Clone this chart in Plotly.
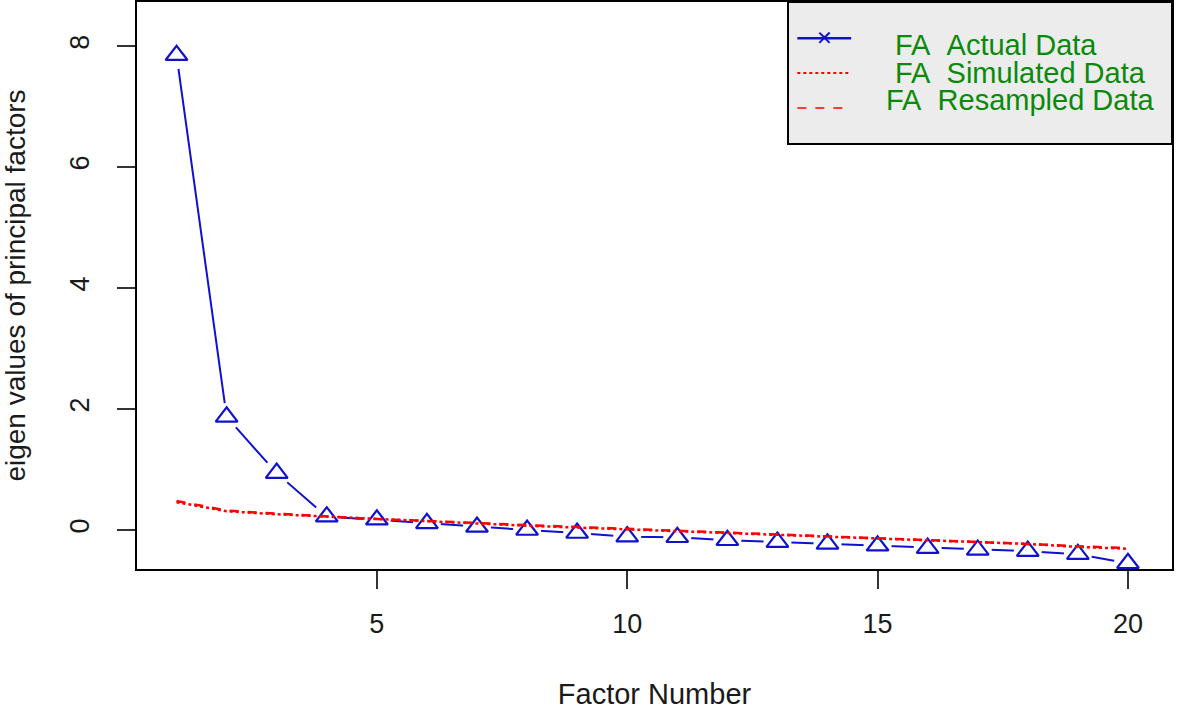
import plotly.graph_objects as go

factor_number = list(range(1, 21))
fa_actual = [7.85, 1.87, 0.94, 0.22, 0.17, 0.11, 0.05, 0.00, -0.05, -0.11,
             -0.12, -0.17, -0.20, -0.23, -0.26, -0.30, -0.33, -0.35, -0.40, -0.55]
fa_simulated = [0.46, 0.31, 0.26, 0.22, 0.18, 0.14, 0.11, 0.07, 0.04, 0.01,
                -0.02, -0.04, -0.07, -0.11, -0.14, -0.17, -0.20, -0.23, -0.28, -0.31]
fa_resampled = [0.48, 0.32, 0.27, 0.22, 0.18, 0.15, 0.11, 0.08, 0.05, 0.02,
                -0.01, -0.04, -0.07, -0.10, -0.13, -0.16, -0.19, -0.23, -0.27, -0.30]

legend_labels = ['FA\u00a0\u00a0Actual Data', 'FA\u00a0\u00a0Simulated Data', 'FA\u00a0\u00a0Resampled Data']

font_name = 'Liberation Sans, Arial, sans-serif'
blue = '#1010d0'
red = '#ff0000'
green = '#0a8a0a'

fig = go.Figure()

# Linie der echten Daten (type="b": Lücken um die Punkte)
fig.add_trace(go.Scatter(x=factor_number, y=fa_actual, mode='lines',
                         line=dict(color=blue, width=2), showlegend=False))
fig.add_trace(go.Scatter(x=factor_number, y=fa_actual, mode='markers',
                         marker=dict(symbol='circle', size=28, color='white'),
                         showlegend=False))
fig.add_trace(go.Scatter(x=factor_number, y=fa_actual, mode='markers',
                         marker=dict(symbol='triangle-up-open', size=19, color=blue,
                                     line=dict(width=2.2, color=blue)),
                         showlegend=False))

# Simulierte und resampelte Daten
fig.add_trace(go.Scatter(x=factor_number, y=fa_simulated, mode='lines',
                         line=dict(color=red, width=2.5, dash='dot'), showlegend=False))
fig.add_trace(go.Scatter(x=factor_number, y=fa_resampled, mode='lines',
                         line=dict(color=red, width=2.5, dash='dash'), showlegend=False))

# Legende von Hand (wie in R)
shapes = [
    dict(type='rect', xref='paper', yref='paper', x0=0.629, x1=1.0, y0=0.7496, y1=1.0,
         fillcolor='#ececec', line=dict(color='black', width=2), layer='above'),
    dict(type='line', xref='paper', yref='paper', x0=0.638, x1=0.690, y0=0.936, y1=0.936,
         line=dict(color=blue, width=2.5), layer='above'),
    dict(type='line', xref='paper', yref='paper', x0=0.638, x1=0.690, y0=0.875, y1=0.875,
         line=dict(color=red, width=2, dash='dot'), layer='above'),
    dict(type='line', xref='paper', yref='paper', x0=0.638, x1=0.690, y0=0.813, y1=0.813,
         line=dict(color=red, width=1.5, dash='dash'), layer='above'),
]
annotations = [
    dict(xref='paper', yref='paper', x=0.664, y=0.936, text='✕', showarrow=False,
         font=dict(family=font_name, size=20, color=blue), xanchor='center', yanchor='middle'),
]
for label, xl, yl in zip(legend_labels, [0.730, 0.730, 0.722], [0.925, 0.874, 0.828]):
    annotations.append(dict(xref='paper', yref='paper', x=xl, y=yl, text=label,
                            showarrow=False, xanchor='left', yanchor='middle',
                            font=dict(family=font_name, size=29, color=green)))

fig.update_layout(
    width=1181, height=713,
    margin=dict(l=137, r=9, t=2, b=144),
    plot_bgcolor='white', paper_bgcolor='white',
    font=dict(family=font_name, size=27, color='#1a1a1a'),
    shapes=shapes, annotations=annotations,
    xaxis=dict(range=[0.21, 20.88], tickvals=[5, 10, 15, 20], showgrid=False, zeroline=False,
               showline=True, mirror=True, linecolor='black', linewidth=2,
               ticks='outside', ticklen=18, tickwidth=1.5, tickcolor='#333333',
               ticklabelstandoff=12, tickfont=dict(size=27), automargin=False,
               title=dict(text='Factor Number', standoff=45, font=dict(size=29))),
    yaxis=dict(range=[-0.645, 8.73], tickvals=[0, 2, 4, 6, 8], showgrid=False, zeroline=False,
               showline=True, mirror=True, linecolor='black', linewidth=2,
               ticks='outside', ticklen=18, tickwidth=1.5, tickcolor='#333333',
               tickangle=-90, ticklabelstandoff=17, tickfont=dict(size=27), automargin=False,
               title=dict(text='eigen values of principal factors', standoff=36,
                          font=dict(size=28))),
)

# Seitenrand des Browsers entfernen
fig.write_html('out.html', config={'displayModeBar': False},
               post_script="document.body.style.margin='0';")
